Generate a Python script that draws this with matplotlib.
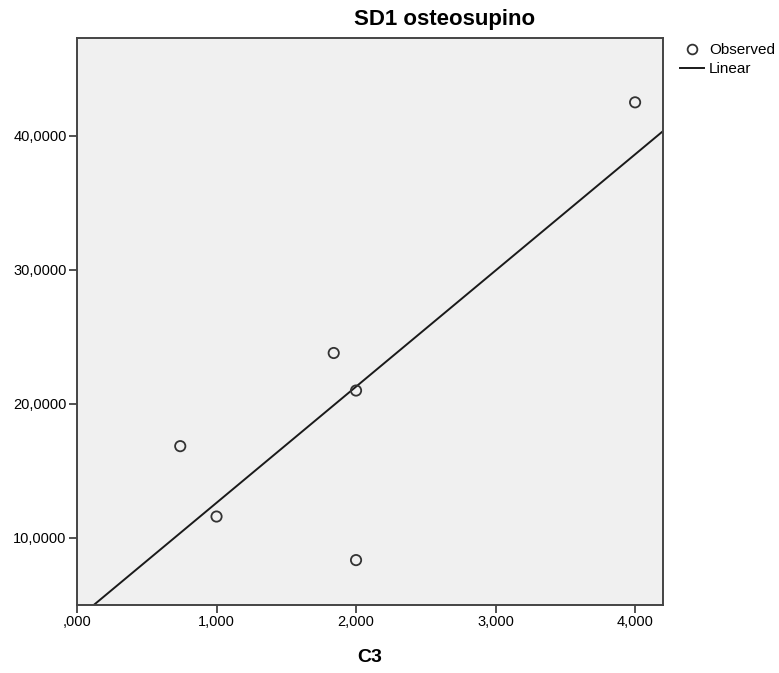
import matplotlib
matplotlib.use("Agg")
import matplotlib.pyplot as plt
from matplotlib.lines import Line2D
import numpy as np

# Data
c3 = [4.0, 0.74, 1.0, 1.84, 2.0, 2.0]
sd1 = [42.5, 16.85, 11.6, 23.8, 21.0, 8.35]
xticks = [0, 1, 2, 3, 4]
xticklabels = [",000", "1,000", "2,000", "3,000", "4,000"]
yticks = [10, 20, 30, 40]
yticklabels = ["10,0000", "20,0000", "30,0000", "40,0000"]

plt.rcParams['font.family'] = ['Liberation Sans', 'DejaVu Sans']

W, H = 779, 673
fig = plt.figure(figsize=(W/100, H/100), dpi=100)
ax = fig.add_axes([77/W, (H-605)/H, (663-77)/W, (605-38)/H])
ax.set_facecolor('#F0F0F0')

xlim = (0, 4.2)
ylim = (5.0, 47.3)

slope, intercept = np.polyfit(c3, sd1, 1)
xs = np.array(xlim)
ax.plot(xs, slope*xs + intercept, color='#1a1a1a', lw=1.4, zorder=2)
ax.scatter(c3, sd1, s=55, facecolors='none', edgecolors='#333333', linewidths=1.3, zorder=3)

ax.set_xlim(*xlim)
ax.set_ylim(*ylim)
ax.set_xticks(xticks)
ax.set_xticklabels(xticklabels, fontsize=10.5)
ax.set_yticks(yticks)
ax.set_yticklabels(yticklabels, fontsize=10.5)
ax.tick_params(direction='out', length=6, width=1.2, color='#333333', pad=1.5)
for s in ax.spines.values():
    s.set_color('#444444')
    s.set_linewidth(1.4)

ax.set_xlabel("C3", fontsize=14, fontweight='bold', labelpad=14)
fig.text(445/W, 1-20/H, "SD1 osteosupino", fontsize=16, fontweight='bold',
         ha='center', va='center')

handles = [Line2D([], [], marker='o', ls='none', markerfacecolor='none',
                  markeredgecolor='#333333', markeredgewidth=1.3, markersize=7),
           Line2D([], [], color='#1a1a1a', lw=1.4)]
leg = fig.legend(handles, ["Observed", "Linear"], loc='upper left',
                 bbox_to_anchor=(680/W, 1-43/H), frameon=False, fontsize=11,
                 handlelength=1.6, handletextpad=0.3, labelspacing=0.35,
                 borderpad=0, borderaxespad=0)

fig.savefig("out.png", dpi=100)
